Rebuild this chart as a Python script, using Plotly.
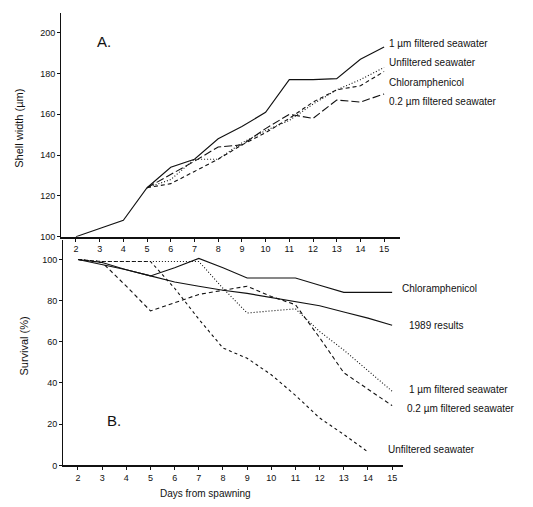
import plotly.graph_objects as go

# The page body adds an 8px margin; place everything in window (page) coordinates.
OFF = 8
W, H = 533 - OFF, 507 - OFF

# ---------------- data ----------------
days = list(range(2, 16))
days_treat = list(range(5, 16))
days_unf = list(range(2, 15))

# Panel A: shell width (um)
shell_1um = [100, 104, 108, 124, 134, 138, 148, 154, 161, 177, 177, 177.5, 187, 193]
shell_unfiltered = [124, 126, 132, 138, 145, 151, 158, 166, 172, 174, 181]
shell_chloramphenicol = [124, 128, 138, 138, 146, 152, 157, 165, 172, 177, 183]
shell_02um = [124, 130.5, 137, 144, 145, 153, 160, 158, 167, 166, 170]

# Panel B: survival (%)
surv_chloramphenicol = [100, 98.5, 95, 92, 96, 100.5, 96, 91, 91, 91, 87.5, 84, 84, 84]
surv_1989 = [100, 97.5, 95, 92, 89, 87, 85, 83.5, 81.5, 79.5, 77.5, 74.5, 71.5, 68]
surv_1um = [100, 99, 99, 99, 99, 99, 86, 74, 75, 76, 65, 56, 46, 36]
surv_02um = [100, 98.5, 87, 75, 79, 83, 85, 87, 82, 78, 62, 45, 37, 29]
surv_unfiltered = [100, 99, 99, 99, 86, 71, 57, 52, 44, 34, 23, 15, 6.5]

x_ticks = list(range(2, 16))
shell_ticks = [100, 120, 140, 160, 180, 200]
surv_ticks = [0, 20, 40, 60, 80, 100]

FONT = "Arial, Liberation Sans, Helvetica, sans-serif"
BLACK = "#111111"


def px_x(p):
    return (p - OFF) / W


def px_y(p):
    return 1 - (p - OFF) / H


fig = go.Figure()

def line(x, y, dash, xa, ya, width=1.1):
    fig.add_trace(go.Scatter(x=x, y=y, mode="lines", xaxis=xa, yaxis=ya,
                             line=dict(color=BLACK, width=width, dash=dash),
                             showlegend=False, hoverinfo="skip"))

# Panel A
line(days, shell_1um, "solid", "x", "y")
line(days_treat, shell_unfiltered, "4px,3px", "x", "y")
line(days_treat, shell_chloramphenicol, "1px,2px", "x", "y")
line(days_treat, shell_02um, "8px,3px", "x", "y")

# Panel B
line(days, surv_chloramphenicol, "solid", "x2", "y2")
line(days, surv_1989, "solid", "x2", "y2")
line(days, surv_1um, "1px,2px", "x2", "y2")
line(days, surv_02um, "4px,3px", "x2", "y2")
line(days_unf, surv_unfiltered, "3px,3px", "x2", "y2")

axis_common = dict(showgrid=False, zeroline=False, showline=True, linecolor=BLACK,
                   ticks="outside", ticklen=3, tickcolor=BLACK, tickwidth=1,
                   tickfont=dict(family=FONT, size=9, color=BLACK))

fig.update_layout(
    width=W, height=H,
    margin=dict(l=0, r=0, t=0, b=0),
    paper_bgcolor="white", plot_bgcolor="white",
    font=dict(family=FONT, color=BLACK),
    xaxis=dict(**axis_common, domain=[px_x(61), px_x(400)], range=[1.37, 15.67],
               tickvals=x_ticks, anchor="y", linewidth=2),
    yaxis=dict(**axis_common, domain=[px_y(239), px_y(13)], range=[100, 209.7],
               tickvals=shell_ticks, anchor="x", linewidth=1),
    xaxis2=dict(**axis_common, domain=[px_x(63), px_x(403)], range=[1.38, 15.45],
                tickvals=x_ticks, anchor="y2", linewidth=2),
    yaxis2=dict(**axis_common, domain=[px_y(470), px_y(242)], range=[0, 109.6],
                tickvals=surv_ticks, anchor="x2", linewidth=1),
)

ann = []

def text(x, y, s, size=10, xanchor="left", angle=0):
    ann.append(dict(x=px_x(x), y=px_y(y), xref="paper", yref="paper", text=s,
                    showarrow=False, xanchor=xanchor, yanchor="middle",
                    textangle=angle, font=dict(family=FONT, size=size, color=BLACK)))

# panel letters
text(95, 42, "A.", size=15)
text(105, 425, "B.", size=15)

# axis titles
text(19, 130, "Shell width (µm)", size=11, xanchor="center", angle=-90)
text(24, 350, "Survival (%)", size=11, xanchor="center", angle=-90)
text(205, 498, "Days from spawning", size=10, xanchor="center")

# series labels panel A
text(387, 44, "1 µm filtered seawater")
text(387, 63, "Unfiltered seawater")
text(387, 83, "Chloramphenicol")
text(387, 102, "0.2 µm filtered seawater")

# series labels panel B
text(400, 291, "Chloramphenicol")
text(407, 329, "1989 results")
text(407, 393, "1 µm filtered seawater")
text(405, 413, "0.2 µm filtered seawater")
text(386, 454, "Unfiltered seawater")

fig.update_layout(annotations=ann)

fig.write_html("out.html")
